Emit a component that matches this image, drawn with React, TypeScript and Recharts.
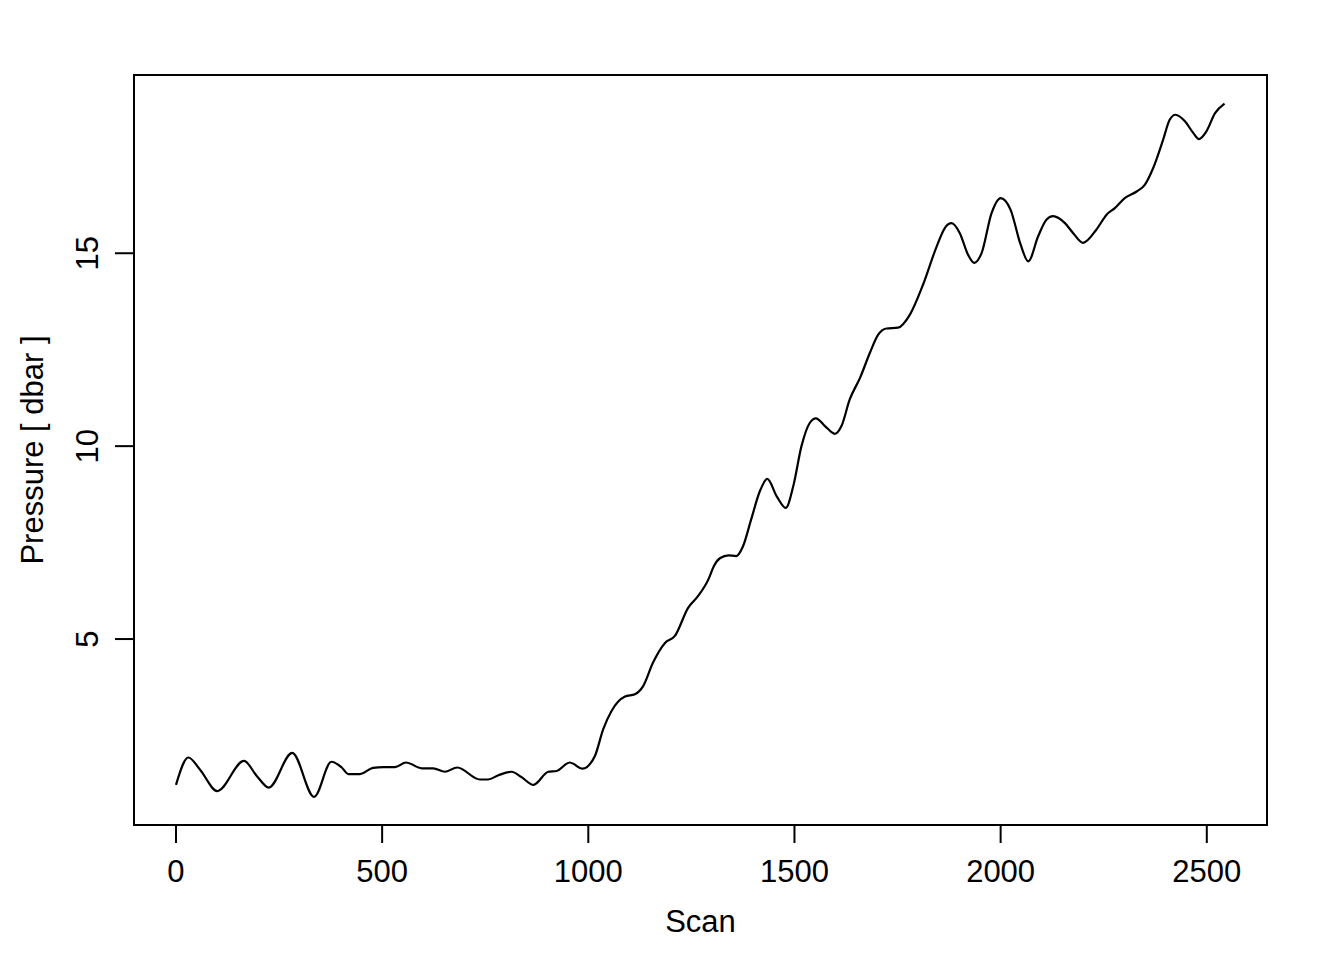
import React from "react";
import { Label, Line, LineChart, ReferenceArea, XAxis, YAxis } from "recharts";

// scan index and pressure
const scans = [
  0, 30, 58, 100, 165, 196, 225, 282, 335, 377, 402, 418, 446, 478, 503, 531,
  558, 596, 624, 652, 682, 737, 757, 782, 814, 838, 867, 903, 923, 955, 986,
  1016, 1036, 1056, 1089, 1113, 1133, 1157, 1186, 1210, 1242, 1266, 1291, 1305,
  1320, 1340, 1358, 1375, 1395, 1416, 1434, 1457, 1479, 1497, 1517, 1537, 1552,
  1574, 1598, 1614, 1634, 1659, 1683, 1703, 1723, 1751, 1780, 1812, 1845, 1865,
  1881, 1901, 1921, 1936, 1954, 1978, 2000, 2024, 2048, 2067, 2091, 2111, 2127,
  2156, 2176, 2200, 2232, 2257, 2277, 2301, 2330, 2350, 2370, 2394, 2410, 2424,
  2447, 2467, 2481, 2499, 2520, 2543,
];

const pressure = [
  1.22, 1.93, 1.62, 1.06, 1.84, 1.45, 1.15, 2.05, 0.91, 1.82, 1.67, 1.5, 1.5,
  1.66, 1.68, 1.68, 1.8, 1.65, 1.65, 1.56, 1.67, 1.36, 1.36, 1.47, 1.56, 1.42,
  1.22, 1.56, 1.58, 1.8, 1.64, 1.97, 2.66, 3.13, 3.51, 3.57, 3.78, 4.39, 4.9,
  5.08, 5.81, 6.11, 6.54, 6.9, 7.1, 7.17, 7.15, 7.4, 8.1, 8.83, 9.15, 8.7, 8.4,
  8.96, 10.0, 10.6, 10.72, 10.52, 10.32, 10.52, 11.21, 11.77, 12.42, 12.89,
  13.05, 13.07, 13.41, 14.19, 15.18, 15.66, 15.78, 15.52, 14.96, 14.75, 15.01,
  16.04, 16.43, 16.13, 15.24, 14.79, 15.44, 15.87, 15.96, 15.78, 15.52, 15.27,
  15.61, 16.0, 16.17, 16.43, 16.6, 16.78, 17.21, 17.94, 18.46, 18.59, 18.42,
  18.12, 17.96, 18.16, 18.63, 18.88,
];

const xTicks = [0, 500, 1000, 1500, 2000, 2500];
const yTicks = [5, 10, 15];

const xDomain: [number, number] = [-101.8, 2646];
const yDomain: [number, number] = [0.18, 19.62];

const data = scans.map((s, i) => ({ scan: s, pressure: pressure[i] }));

const FONT = "'Liberation Sans', Arial, Helvetica, sans-serif";
const FS = 31;

function YTick(props: any) {
  const { y, payload } = props;
  return (
    <text
      x={90}
      y={y}
      transform={`rotate(-90 90 ${y})`}
      textAnchor="middle"
      fontFamily={FONT}
      fontSize={FS}
      fill="#000"
    >
      {payload.value}
    </text>
  );
}

export default function App() {
  return (
    <LineChart
      width={1328}
      height={944}
      data={data}
      margin={{ top: 67, right: 69, left: 66, bottom: 67 }}
    >
      <XAxis
        dataKey="scan"
        type="number"
        domain={xDomain}
        ticks={xTicks}
        allowDataOverflow
        axisLine={false}
        tickSize={18}
        tickMargin={17}
        height={60}
        tickLine={{ stroke: "#000", strokeWidth: 2 }}
        tick={{ fill: "#000", fontSize: FS, fontFamily: FONT }}
      >
        <Label
          content={(p: any) => {
            const vb = p.viewBox;
            return (
              <text
                x={vb.x + vb.width / 2}
                y={vb.y + 107}
                textAnchor="middle"
                fontFamily={FONT}
                fontSize={FS}
                fill="#000"
              >
                Scan
              </text>
            );
          }}
        />
      </XAxis>
      <YAxis
        type="number"
        domain={yDomain}
        ticks={yTicks}
        allowDataOverflow
        axisLine={false}
        width={60}
        tickSize={19}
        tickLine={{ stroke: "#000", strokeWidth: 2 }}
        tick={<YTick />}
      >
        <Label
          content={(p: any) => {
            const vb = p.viewBox;
            const cx = vb.x - 31;
            const cy = vb.y + vb.height / 2;
            return (
              <text
                x={cx}
                y={cy}
                transform={`rotate(-90 ${cx} ${cy})`}
                textAnchor="middle"
                fontFamily={FONT}
                fontSize={FS}
                fill="#000"
              >
                Pressure [ dbar ]
              </text>
            );
          }}
        />
      </YAxis>
      <ReferenceArea
        x1={xDomain[0]}
        x2={xDomain[1]}
        y1={yDomain[0]}
        y2={yDomain[1]}
        fill="none"
        stroke="#000"
        strokeWidth={2}
        ifOverflow="visible"
      />
      <Line
        type="monotone"
        dataKey="pressure"
        stroke="#000"
        strokeWidth={2.2}
        dot={false}
        isAnimationActive={false}
      />
    </LineChart>
  );
}
